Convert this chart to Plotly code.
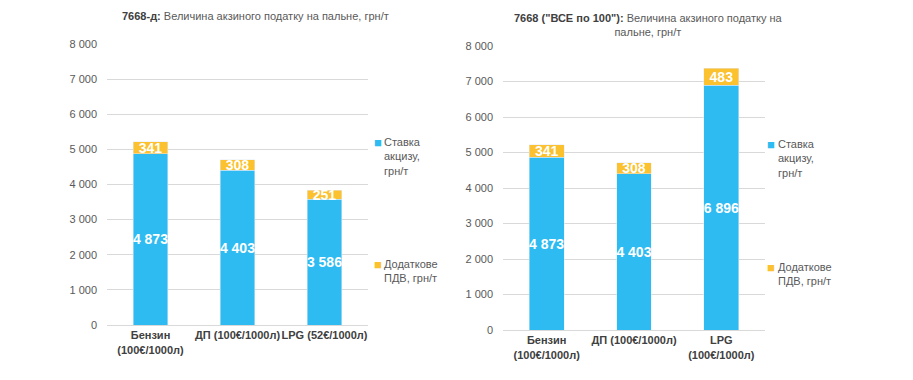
import plotly.graph_objects as go

# ---- data ----
cats_left = ["Бензин<br>(100€/1000л)", "ДП (100€/1000л)", "LPG (52€/1000л)"]
excise_left = [4873, 4403, 3586]
vat_left = [341, 308, 251]

cats_right = ["Бензин<br>(100€/1000л)", "ДП (100€/1000л)", "LPG<br>(100€/1000л)"]
excise_right = [4873, 4403, 6896]
vat_right = [341, 308, 483]

name_excise = "Ставка<br>акцизу,<br>грн/т"
name_vat = "Додаткове<br>ПДВ, грн/т"

title_left = "<b style='color:#404040'>7668-д:</b> Величина акзиного податку на пальне, грн/т"
title_right = ("<b style='color:#404040'>7668 (\"ВСЕ по 100\"):</b> Величина акзиного податку на"
               "<br>пальне, грн/т")

y_ticks = list(range(0, 8001, 1000))

BLUE = "#2ebbf1"
YELLOW = "#fbc12e"
FONT = "Liberation Sans, Arial, sans-serif"
TXT = "#595959"

fig = go.Figure()

def add_pair(cats, exc, vat, xa, ya):
    tf = dict(color="white", size=14, family=FONT, weight="bold")
    fig.add_trace(go.Bar(x=cats, y=exc, name=name_excise, marker_color=BLUE,
                         xaxis=xa, yaxis=ya, showlegend=False,
                         texttemplate="%{y:,}", textposition="inside",
                         insidetextanchor="middle", textangle=0, textfont=tf))
    fig.add_trace(go.Bar(x=cats, y=vat, name=name_vat, marker_color=YELLOW,
                         xaxis=xa, yaxis=ya, showlegend=False,
                         texttemplate="%{y:,}", textposition="inside",
                         insidetextanchor="middle", textangle=0, textfont=tf))

add_pair(cats_left, excise_left, vat_left, "x", "y")
add_pair(cats_right, excise_right, vat_right, "x2", "y2")

axis_common = dict(range=[0, 8000], tickvals=y_ticks, tickformat=",",
                   showline=False, zeroline=False, automargin=False,
                   gridcolor="#d9d9d9", gridwidth=1, ticks="",
                   tickfont=dict(size=11, color=TXT, family=FONT),
                   ticklabelstandoff=9)
xaxis_common = dict(showline=True, linecolor="#d9d9d9", linewidth=1, ticks="",
                    tickangle=0, automargin=False,
                    tickfont=dict(size=11, color="#404040", family=FONT, weight="bold"))

def ann(text, x, y, xanchor="left", yanchor="top", size=11, color=TXT, family=FONT,
        align="left"):
    return dict(text=text, x=x, y=y, xref="paper", yref="paper", xanchor=xanchor,
                yanchor=yanchor, showarrow=False, align=align,
                font=dict(size=size, color=color, family=family))

W, H = 905, 372
def px(x):
    return (x - 8) / W
def py(y):
    return 1 - (y - 8) / H

annotations = [
    # titles
    ann(title_left, px(256), py(16), xanchor="center", yanchor="middle"),
    ann(title_right, px(648), py(25.5), xanchor="center", yanchor="middle", align="center"),
    # left legend
    ann("■", px(377.5), py(142), xanchor="center", yanchor="middle", size=13, color=BLUE),
    ann("Ставка<br>акцизу,<br>грн/т", px(382), py(134)),
    ann("■", px(377.5), py(264), xanchor="center", yanchor="middle", size=13, color=YELLOW),
    ann("Додаткове<br>ПДВ, грн/т", px(382), py(256)),
    # right legend
    ann("■", px(771), py(144), xanchor="center", yanchor="middle", size=13, color=BLUE),
    ann("Ставка<br>акцизу,<br>грн/т", px(775.5), py(136)),
    ann("■", px(771), py(267), xanchor="center", yanchor="middle", size=13, color=YELLOW),
    ann("Додаткове<br>ПДВ, грн/т", px(775.5), py(259)),
]

fig.update_layout(
    width=W, height=H,
    margin=dict(l=0, r=0, t=0, b=0, autoexpand=False),
    paper_bgcolor="white", plot_bgcolor="white",
    barmode="stack", bargap=0.6,
    separators=", ",
    uniformtext=dict(minsize=14, mode="show"),
    font=dict(family=FONT, color=TXT),
    showlegend=False,
    xaxis=dict(domain=[px(107), px(368)], anchor="y", **xaxis_common),
    yaxis=dict(domain=[py(325), py(44)], anchor="x", **axis_common),
    xaxis2=dict(domain=[px(503), px(765)], anchor="y2", **xaxis_common),
    yaxis2=dict(domain=[py(330), py(46)], anchor="x2", **axis_common),
    annotations=annotations,
)

fig.write_html("out.html")
